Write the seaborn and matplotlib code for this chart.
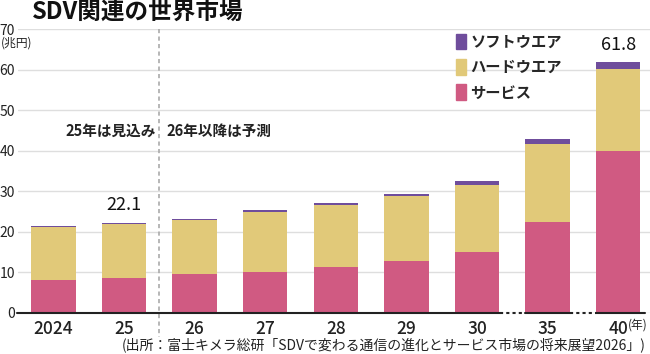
import matplotlib
matplotlib.use("Agg")
import matplotlib.pyplot as plt
from matplotlib.patches import Patch
import seaborn as sns
import numpy as np

years = ["2024", "25", "26", "27", "28", "29", "30", "35", "40"]
service = [8.0, 8.6, 9.4, 10.1, 11.2, 12.8, 15.0, 22.4, 39.8]
hardware = [13.1, 13.2, 13.5, 14.8, 15.4, 15.9, 16.6, 19.3, 20.3]
software = [0.2, 0.3, 0.3, 0.5, 0.5, 0.7, 1.0, 1.3, 1.7]
labels = ["ソフトウエア", "ハードウエア", "サービス"]
yticks = [0, 10, 20, 30, 40, 50, 60, 70]

c_soft = "#6f4d9c"
c_hard = "#e1c979"
c_serv = "#d05a82"

sns.set_theme(style="white")
plt.rcParams["font.family"] = ["Noto Sans CJK JP", "DejaVu Sans"]

fig = plt.figure(figsize=(6.5, 3.54), dpi=100)
ax = fig.add_axes([18 / 650, 1 - 312.5 / 354, 1 - 18 / 650, (312.5 - 29.3) / 354])

s = np.array(service)
h = np.array(hardware)
w = np.array(software)

# stacked: draw totals first, then overlay lower parts
sns.barplot(x=years, y=s + h + w, color=c_soft, width=0.63, saturation=1, ax=ax, linewidth=0)
sns.barplot(x=years, y=s + h, color=c_hard, width=0.63, saturation=1, ax=ax, linewidth=0)
sns.barplot(x=years, y=s, color=c_serv, width=0.63, saturation=1, ax=ax, linewidth=0)

ax.set_xlim(-0.50, 8.45)
ax.set_ylim(0, 70)
ax.set_yticks(yticks)
ax.yaxis.grid(True, color="#dedede", linewidth=1)
ax.set_axisbelow(True)
for sp in ax.spines.values():
    sp.set_visible(False)
ax.tick_params(axis="y", length=0, pad=2, labelsize=10, colors="#222222")
ax.tick_params(axis="x", length=0, pad=5.5, labelsize=12.5, colors="#222222")
for t in ax.get_xticklabels():
    t.set_fontweight("medium")
ax.set_xlabel("")
ax.set_ylabel("")

# bottom axis with break marks
ax.plot([-0.52, 6.32], [0, 0], color="#222222", lw=1.5, clip_on=False, zorder=5)
ax.plot([6.32, 6.68], [0, 0], color="#222222", lw=1.5, ls=(0, (1.5, 1.5)), clip_on=False, zorder=5)
ax.plot([6.68, 7.32], [0, 0], color="#222222", lw=1.5, clip_on=False, zorder=5)
ax.plot([7.32, 7.68], [0, 0], color="#222222", lw=1.5, ls=(0, (1.5, 1.5)), clip_on=False, zorder=5)
ax.plot([7.68, 8.38], [0, 0], color="#222222", lw=1.5, clip_on=False, zorder=5)

# estimate / forecast divider
ax.plot([1.5, 1.5], [70, -6], color="#aaaaaa", lw=1.2, ls=(0, (2.5, 2)), clip_on=False, zorder=1)
ax.text(1.45, 44.8, "25年は見込み", ha="right", va="center", fontsize=10.5, fontweight="bold", color="#222222")
ax.text(1.6, 44.8, "26年以降は予測", ha="left", va="center", fontsize=10.5, fontweight="bold", color="#222222")

tot = s + h + w
ax.text(1, tot[1] + 2.2, f"{tot[1]:.1f}", ha="center", va="bottom", fontsize=13, color="#111111")
ax.text(8, tot[8] + 2.2, f"{tot[8]:.1f}", ha="center", va="bottom", fontsize=13, color="#111111")

handles = [Patch(color=c_soft), Patch(color=c_hard), Patch(color=c_serv)]
fig.legend(handles, labels, loc="upper left", bbox_to_anchor=(456 / 650, 1 - 33.5 / 354),
           frameon=False, prop={"weight": "bold", "size": 11},
           handlelength=0.65, handleheight=1.2, handletextpad=0.3,
           labelspacing=0.62, borderpad=0, borderaxespad=0)

fig.text(32 / 650, 1 - 12 / 354, "SDV関連の世界市場", ha="left", va="center",
         fontsize=17, fontweight="bold", color="#111111")
fig.text(1 / 650, 1 - 43 / 354, "(兆円)", ha="left", va="center", fontsize=8.5, color="#222222")
fig.text(638 / 650, 1 - 325 / 354, "(年)", ha="center", va="center", fontsize=8.5, color="#222222")
fig.text(646 / 650, 1 - 345 / 354,
         "(出所：富士キメラ総研「SDVで変わる通信の進化とサービス市場の将来展望2026」)",
         ha="right", va="center", fontsize=10, color="#222222")

fig.savefig("out.png", dpi=100)
